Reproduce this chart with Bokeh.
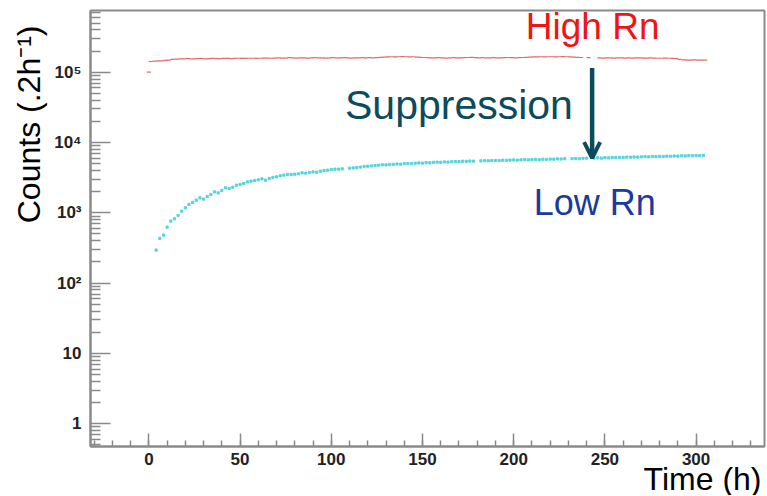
import math
from bokeh.plotting import figure
from bokeh.models import (Range1d, FixedTicker, Label, Arrow, OpenHead,
                          ColumnDataSource, Title)
from bokeh.embed import file_html
from bokeh.resources import INLINE

nan = float("nan")

# ---------------- data ----------------
high_time = [0] + list(range(1, 306, 2))
high_counts = [
    100000,
    142000, 144000, 145000, 145000, 147000, 149000,
    152000, 154000, 155000, 155000, 156000, 155000, 155000, 156000, 156000, 155000,
    156000, 157000, 156000, 156000, 157000, 157000, 156000, 157000, 158000, 157000,
    157000, 158000, 158000, 157000,
    158000, 159000, 159000, 158000, 159000, 160000, 159000, 159000, 161000, 160000,
    159000, 160000, 160000, 159000, 160000, 161000, 160000, 160000, 159000, 160000,
    161000, 160000, 160000, 161000, 160000, 159000, 160000, 160000, 161000, 160000,
    161000, 160000, 161000,
    163000, 164000, 165000, 166000, 165000, 166000, 167000, 166000, 165000, 166000,
    164000, 163000, 162000, 161000,
    160000, 160000, 161000, 160000, 159000, 160000, 161000, 160000, 160000, 161000,
    162000, 163000, 161000, 160000, 161000, 160000, 160000, 161000, 160000, 160000,
    161000, 162000, 161000, 160000, 161000, 162000, 163000,
    164000, 165000, 165000, 166000, 165000, 166000, 166000, 165000, 166000, 167000,
    166000, 165000, 164000, 163000,
    162000, nan, 161000, nan, nan, 160000,
    159000, 160000, 160000, 159000, 160000, 160000, 159000, 160000, 159000, 160000,
    160000, 159000, 159000, 160000, 159000, 158000, 158000, 159000, 158000, 157000,
    156000,
    152000, 150000, 149000, 149000, 150000, 149000, 149000, 149000,
]

low_time = list(range(4, 305, 2))
low_counts = [
    295, 433, 482, 627, 762, 822, 918, 1057, 1178, 1315,
    1406, 1514, 1633, 1566, 1710, 1825, 1987, 1923, 2080, 2265,
    2222, 2317, 2473, 2531, 2617, 2755, 2818, 2884, 2942, 3041,
    2911, 3083, 3186, 3246, 3357, 3436, 3510, 3510, 3548, 3581,
    3698, 3664, 3750, 3822, 3784, 3908, 3999, 4045, 4131, 4178,
    4178, 4218, nan, 4310, 4350, 4420, 4470, 4560, 4600, 4650,
    4700, 4760, 4820, 4800, 4870, 4900, 4950, 4930, 5000, 5040,
    5010, 5080, 5120, 5100, 5180, 5150, 5220, 5250, 5230, 5290,
    5260, 5330, 5360, 5340, 5420, 5400, 5450, 5430, nan, 5480,
    5510, 5490, 5540, 5570, 5530, 5600, 5580, 5630, 5650, 5620,
    5680, 5700, 5660, 5720, 5750, 5700, 5780, 5740, 5810, 5790,
    5850, 5830, 5880, nan, 5900, 5930, 5880, 5960, 5990, nan,
    6010, 6050, 6000, 6080, 6060, 6120, 6100, 6150, 6130, 6200,
    6180, 6230, 6210, 6260, 6300, 6250, 6330, 6310, 6360, 6340,
    6400, 6380, 6430, 6410, 6470, 6440, 6500, 6480, 6530, 6510,
    6560,
]

x_major = [0, 50, 100, 150, 200, 250, 300]
x_minor = list(range(-30, 340, 10))
y_major = [1, 10, 100, 1000, 10000, 100000]
y_major_labels = ["1", "10", "10²", "10³", "10⁴", "10⁵"]
y_minor = [m * 10 ** k for k in range(-1, 6) for m in range(2, 10)]

arrow_time = 243
arrow_from = 115000
arrow_to = 6000

FONT = "Liberation Sans"
GRAY = "#8a8a8a"

p = figure(width=766, height=495, output_backend="svg", toolbar_location=None,
           y_axis_type="log",
           x_range=Range1d(-32, 337.5), y_range=Range1d(0.474, 7.55e5),
           min_border_left=90, min_border_right=2, min_border_top=10,
           min_border_bottom=49)
p.background_fill_color = "white"
p.border_fill_color = "white"
p.grid.visible = False
p.outline_line_color = GRAY
p.outline_line_width = 2

p.xaxis.ticker = FixedTicker(ticks=x_major, minor_ticks=x_minor)
p.yaxis.ticker = FixedTicker(ticks=y_major, minor_ticks=y_minor)
p.yaxis.major_label_overrides = {v: s for v, s in zip(y_major, y_major_labels)}
for ax in (p.xaxis, p.yaxis):
    ax.axis_line_color = GRAY
    ax.axis_line_width = 2
    ax.major_tick_line_color = GRAY
    ax.minor_tick_line_color = GRAY
    ax.major_tick_line_width = 1.5
    ax.minor_tick_line_width = 1.5
    ax.major_tick_out = 0
    ax.minor_tick_out = 0
    ax.major_label_text_font = FONT
    ax.major_label_text_font_style = "bold"
    ax.major_label_text_font_size = "17px"
    ax.major_label_text_color = "#222222"
p.xaxis.major_tick_in = 13
p.xaxis.minor_tick_in = 6
p.xaxis.major_label_standoff = 6
p.yaxis.major_tick_in = 20
p.yaxis.minor_tick_in = 10
p.yaxis.major_label_standoff = 9

p.add_layout(Title(text="Counts (.2h⁻¹)", align="right", text_font=FONT,
                   text_font_size="32px", text_font_style="normal",
                   text_color="#000000", standoff=9, offset=15), "left")
p.add_layout(Title(text="Time (h)", align="right", text_font=FONT,
                   text_font_size="32px", text_font_style="normal",
                   text_color="#000000", standoff=-18, offset=3), "below")

src_hi = ColumnDataSource(dict(t=high_time, c=high_counts))
src_lo = ColumnDataSource(dict(t=low_time, c=low_counts))
p.scatter("t", "c", source=src_hi, marker="dash", size=4, line_color="#e46a6a",
          line_width=1.2)
p.scatter("t", "c", source=src_lo, marker="square", size=2.2, fill_color="#52d6dc",
          line_color="#52d6dc")

p.add_layout(Arrow(end=OpenHead(size=16, line_width=4, line_color="#0b4b5b"),
                   x_start=arrow_time, y_start=arrow_from,
                   x_end=arrow_time, y_end=arrow_to,
                   line_color="#0b4b5b", line_width=4.5))

def lab(x, y, text, size, color, align="center", angle=0.0):
    p.add_layout(Label(x=x, y=y, text=text, text_font=FONT, text_font_size=size,
                       text_color=color, text_align=align,
                       text_baseline="alphabetic", angle=angle))

lab(243.3, 4.5e5, "High Rn", "37px", "#f01414")
lab(170, 3.4e4, "Suppression", "41px", "#0b4b5b")
lab(244.4, 1420, "Low Rn", "36px", "#1a3aa0")

open("out.html", "w").write(file_html(p, INLINE))
